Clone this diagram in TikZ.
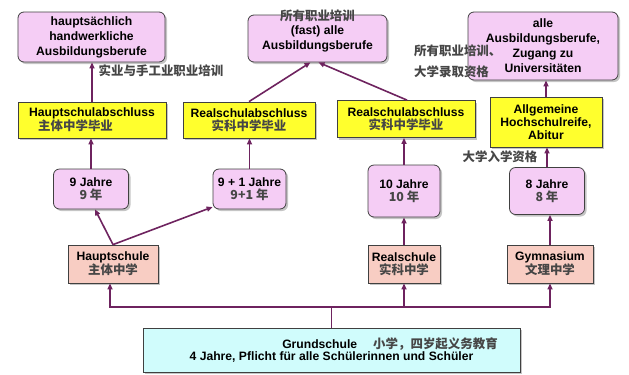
\documentclass[tikz,border=0pt]{standalone}
\usepackage{fontspec}
\setmainfont{Liberation Sans}
\newfontfamily\cjk{Noto Sans CJK SC}
\usetikzlibrary{arrows.meta,shadows}

\definecolor{lilac}{RGB}{245,205,245}
\definecolor{examyellow}{RGB}{255,255,45}
\definecolor{salmon}{RGB}{248,205,195}
\definecolor{basecyan}{RGB}{208,252,252}
\definecolor{flowpurple}{RGB}{110,35,95}
\definecolor{zhgray}{RGB}{70,70,70}
\newcommand{\zhtxt}[1]{{\cjk\fontsize{12.5}{13}\selectfont\color{zhgray}#1}}

\begin{document}
\begin{tikzpicture}[x=1bp, y=-1bp, >={Triangle[length=6bp,width=5bp]},
  box/.style={draw=black!75, line width=0.8bp, align=center, inner sep=2bp,
    font=\fontsize{12.2}{13}\selectfont\bfseries,
    drop shadow={shadow xshift=2bp, shadow yshift=-2bp, fill=black!45}},
  goal/.style={box, fill=lilac, rounded corners=6bp},
  exam/.style={box, fill=examyellow},
  years/.style={box, fill=lilac, rounded corners=6bp},
  school/.style={box, fill=salmon},
  base/.style={box, fill=basecyan},
  note/.style={inner sep=0pt, align=left, font=\fontsize{12.2}{13}\selectfont\bfseries},
  flow/.style={draw=flowpurple, line width=1.6bp}]
\useasboundingbox (0,0) rectangle (629,374);

% goals (top row)
\node[goal, minimum width=147bp, minimum height=50bp] (craft) at (91.5,37) {hauptsächlich\\[2bp]handwerkliche\\[2bp]Ausbildungsberufe};
\node[goal, minimum width=139bp, minimum height=47bp] (allberufe) at (317.5,38.5) {(fast) alle\\[2bp]Ausbildungsberufe};
\node[note] (allberufezh) at (317.5,16) {\zhtxt{所有职业培训}};
\node[goal, minimum width=150bp, minimum height=68bp] (uni) at (543,46) {alle\\[2bp]Ausbildungsberufe,\\[2bp]Zugang zu\\[2bp]Universitäten};

% exams
\node[exam, align=left, minimum width=148bp, minimum height=36bp] (hsa) at (92,120) {Hauptschulabschluss\\\hspace*{9bp}\zhtxt{主体中学毕业}};
\node[exam, minimum width=132bp, minimum height=36bp] (rsa1) at (249,120) {Realschulabschluss\\\zhtxt{实科中学毕业}};
\node[exam, minimum width=138bp, minimum height=37bp] (rsa2) at (406,119) {Realschulabschluss\\\zhtxt{实科中学毕业}};
\node[exam, minimum width=112bp, minimum height=50bp] (abitur) at (546,122) {Allgemeine\\Hochschulreife,\\Abitur};

% years
\node[years, minimum width=75bp, minimum height=40bp] (j9) at (91,189) {9 Jahre\\\zhtxt{9 年}};
\node[years, minimum width=73bp, minimum height=40bp] (j91) at (249.5,189) {9 + 1 Jahre\\\zhtxt{9+1 年}};
\node[years, minimum width=72bp, minimum height=52bp] (j10) at (404,191) {10 Jahre\\\zhtxt{10 年}};
\node[years, minimum width=75bp, minimum height=47bp] (j8) at (547,191) {8 Jahre\\\zhtxt{8 年}};

% schools
\node[school, minimum width=90bp, minimum height=38bp] (hs) at (113,264) {Hauptschule\\\zhtxt{主体中学}};
\node[school, minimum width=72bp, minimum height=38bp] (rs) at (404,264) {Realschule\\\zhtxt{实科中学}};
\node[school, minimum width=86bp, minimum height=38bp] (gym) at (550,264) {Gymnasium\\\zhtxt{文理中学}};

% Grundschule
\node[base, minimum width=377bp, minimum height=44bp] (grund) at (331.5,350) {\hspace*{117bp}Grundschule\hspace{16bp}\zhtxt{小学，四岁起义务教育}\\4 Jahre, Pflicht für alle Schülerinnen und Schüler};

% side notes
\node[note] (craftzh) at (161,71) {\zhtxt{实业与手工业职业培训}};
\node[note, anchor=west] (unizh) at (414,61) {\zhtxt{所有职业培训、}\\[8bp]\zhtxt{大学录取资格}};
\node[note] (abiturzh) at (500,157) {\zhtxt{大学入学资格}};

% from Grundschule
\coordinate (bus) at (330,307);
\draw[flow] (grund.north) -- (grund.north |- bus);
\draw[flow,->] (grund.north |- bus) -| ([xshift=-3bp]hs.south);
\draw[flow,->] (grund.north |- bus) -| (rs.south);
\draw[flow,->] (grund.north |- bus) -| (gym.south);

% Hauptschule branches
\draw[flow,->] (hs.north) -- ([xshift=4bp]j9.south);
\draw[flow,->] (hs.north) -- (j91.206);
\draw[flow,->] (j9.north) -- (j9.north |- hsa.south);
\draw[flow,->] (j91.north) -- (j91.north |- rsa1.south);
\draw[flow,->] (hsa.north) -- (hsa.north |- craft.south);

% Realschule
\draw[flow,->] (rs.north) -- (rs.north |- j10.south);
\draw[flow,->] (j10.north) -- (j10.north |- rsa2.south);
\draw[flow,->] (rsa1.north) -- ([xshift=-7bp]allberufe.south);
\draw[flow,->] ([xshift=1bp]rsa2.north) -- ([xshift=1bp]allberufe.south);

% Gymnasium
\draw[flow,->] (gym.north) -- (gym.north |- j8.south);
\draw[flow,->] (j8.north) -- (j8.north |- abitur.south);
\draw[flow,->] (abitur.north) -- (abitur.north |- uni.south);
\end{tikzpicture}
\end{document}
